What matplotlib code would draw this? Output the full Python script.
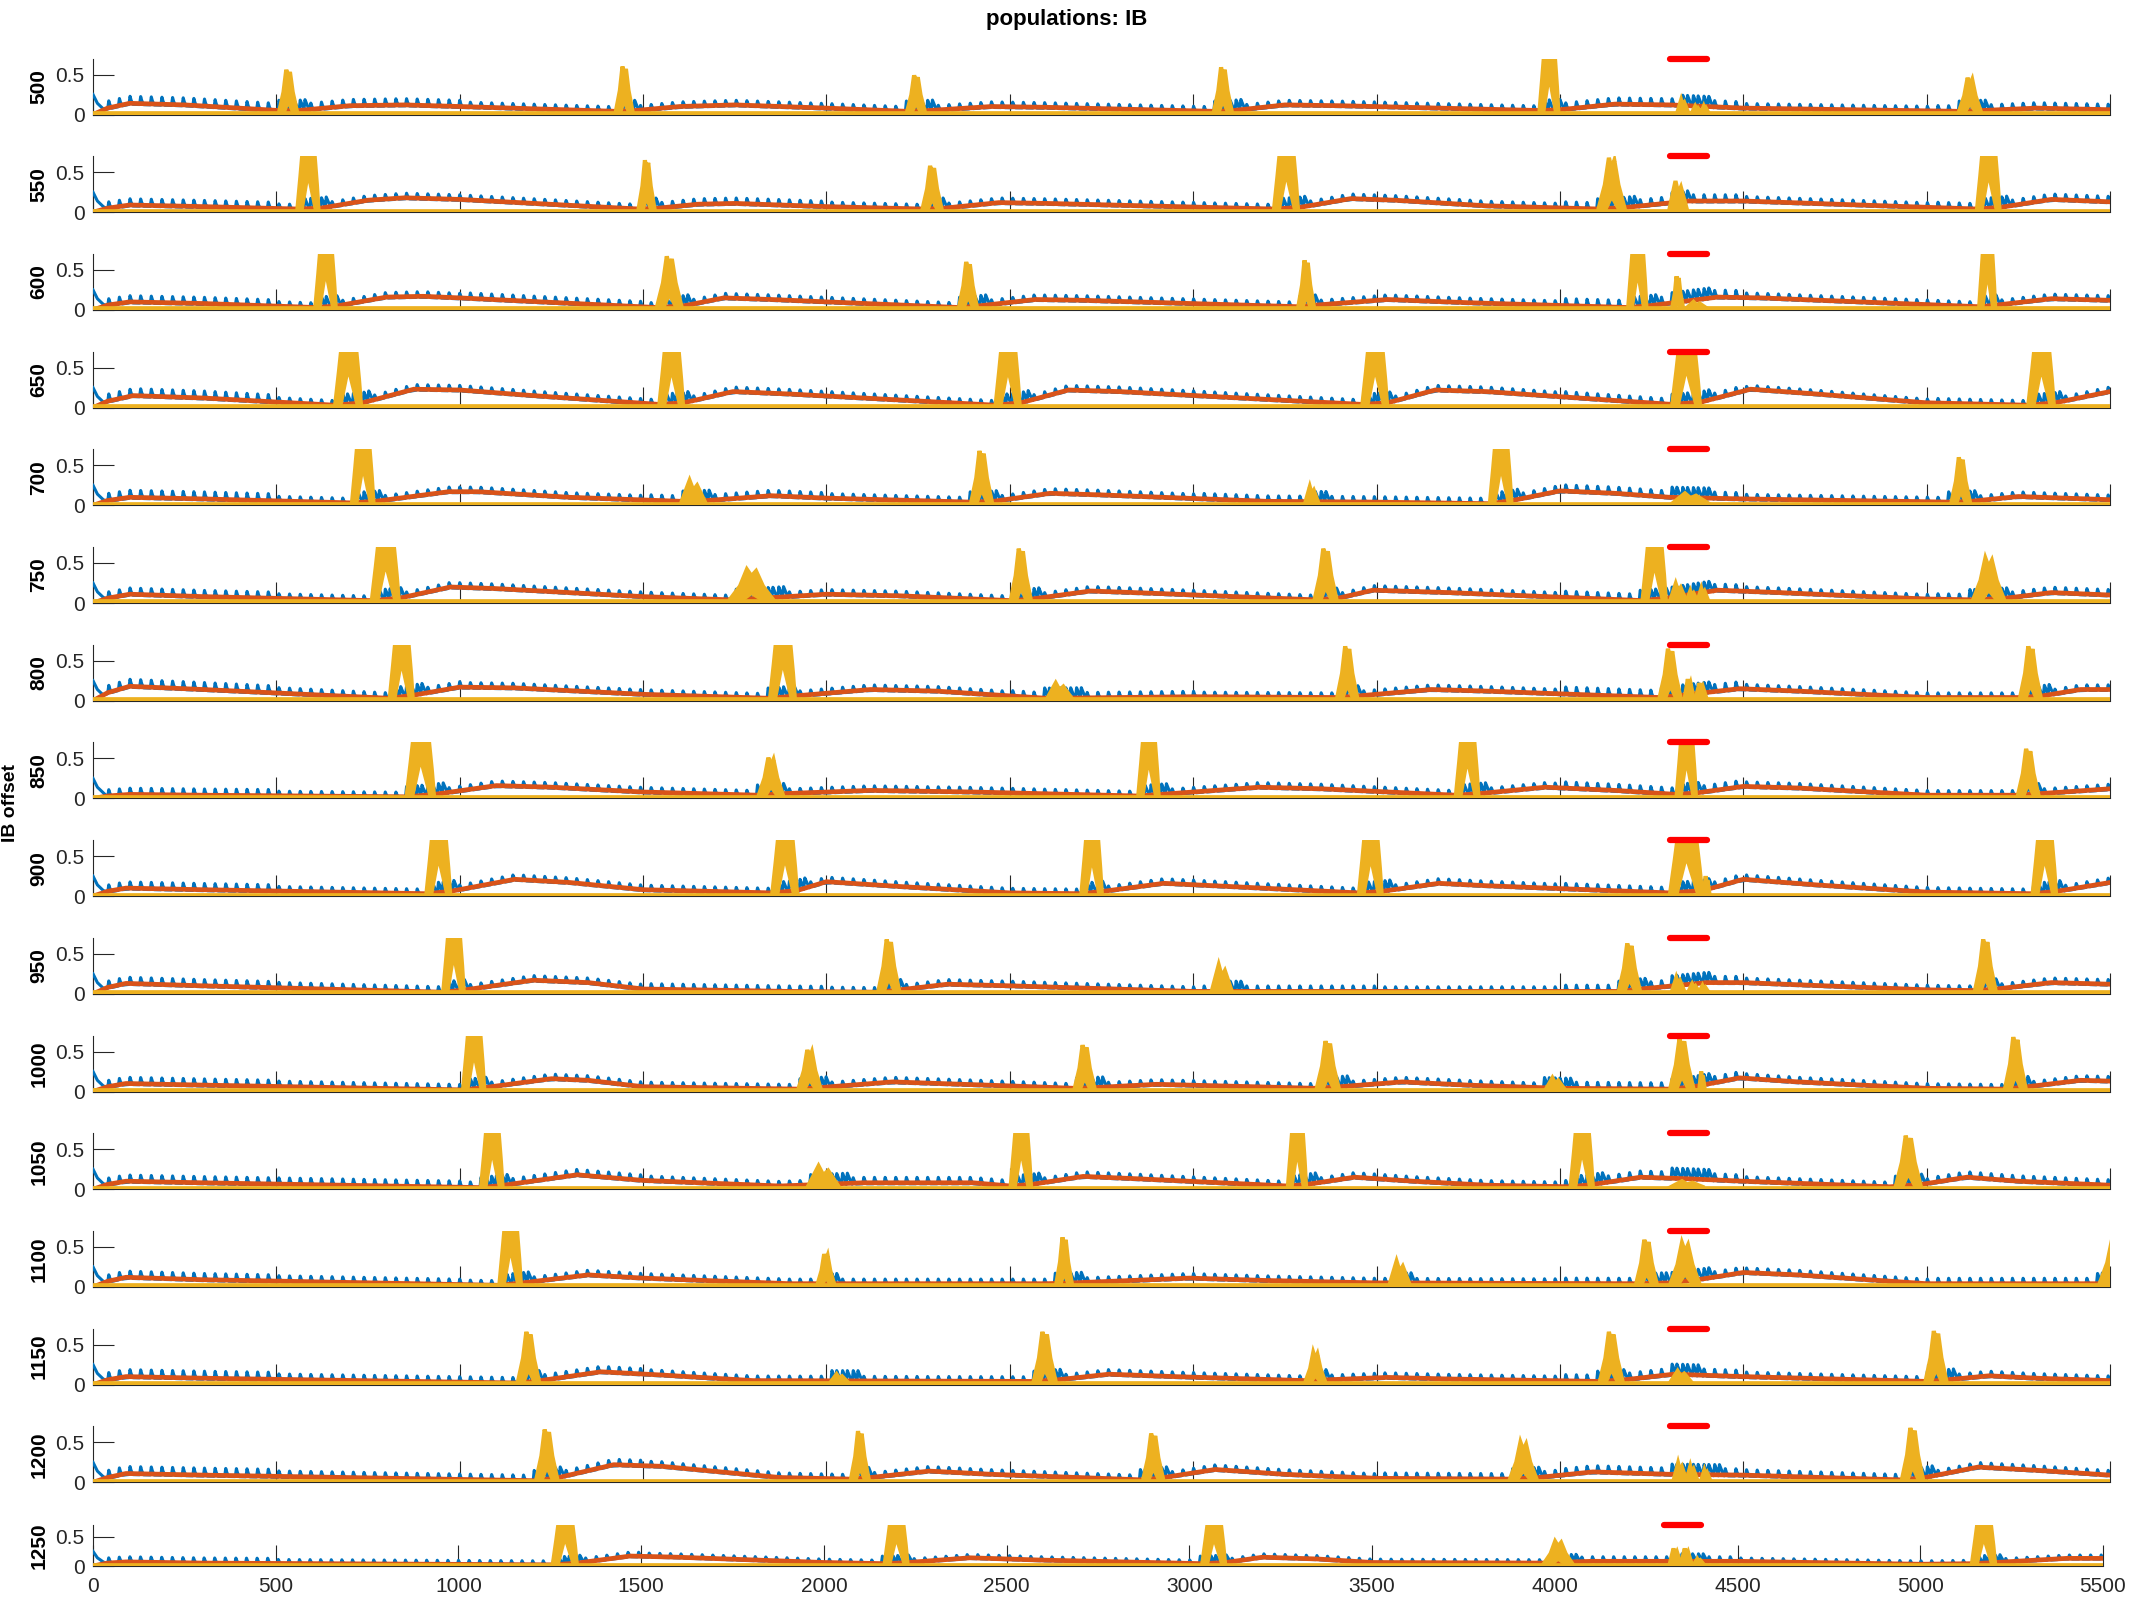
import numpy as np
import matplotlib
matplotlib.use('Agg')
import matplotlib.pyplot as plt

plt.rcParams['font.family'] = ['Liberation Sans', 'DejaVu Sans']

# ---- data ------------------------------------------------------------------
offsets = [500, 550, 600, 650, 700, 750, 800, 850, 900, 950, 1000, 1050, 1100, 1150, 1200, 1250]
xticks = list(range(0, 5501, 500))
yticks = [0, 0.5]
stim_window = (4300, 4400)   # red bar
stim_level = 0.7
yellow_base = 0.02
blue_start = [0.25, 0.14, 0.07]   # first samples of the blue trace (t = 0, 12, 28)
bump_period = 29                   # spacing of the small blue events
burst_blue = 0.14                  # blue level inside yellow bursts

# red trace: (t, value) key points
red_500 = [(0,0),(40,0.08),(100,0.14),(250,0.12),(507,0.05),(560,0.05),(700,0.11),(850,0.12),(1000,0.1),(1425,0.04),(1480,0.05),(1600,0.1),(1750,0.12),(2000,0.08),(2219,0.04),(2280,0.05),(2450,0.1),(2600,0.09),(3056,0.04),(3110,0.05),(3250,0.12),(3400,0.11),(3944,0.05),(4000,0.06),(4150,0.13),(4300,0.12),(4500,0.08),(5087,0.04),(5150,0.05),(5300,0.08),(5500,0.06)]
red_550 = [(0,0),(40,0.05),(100,0.09),(300,0.07),(557,0.04),(620,0.05),(750,0.15),(850,0.18),(1000,0.16),(1487,0.04),(1540,0.05),(1650,0.1),(1750,0.11),(2000,0.07),(2261,0.04),(2320,0.05),(2470,0.12),(2600,0.11),(3220,0.04),(3290,0.06),(3430,0.17),(3550,0.15),(3800,0.08),(4104,0.04),(4180,0.06),(4350,0.14),(4500,0.14),(5137,0.04),(5200,0.06),(5340,0.16),(5500,0.13)]
red_600 = [(0,0),(40,0.06),(100,0.1),(300,0.08),(606,0.03),(665,0.05),(800,0.16),(900,0.17),(1000,0.15),(1537,0.03),(1610,0.05),(1720,0.15),(1850,0.13),(2361,0.03),(2415,0.05),(2570,0.13),(2700,0.12),(3286,0.04),(3335,0.06),(3530,0.13),(3750,0.09),(4186,0.03),(4240,0.05),(4430,0.16),(4550,0.15),(5143,0.04),(5190,0.06),(5340,0.14),(5500,0.12)]
red_650 = [(0,0),(40,0.08),(110,0.15),(300,0.12),(660,0.03),(735,0.06),(875,0.23),(1000,0.22),(1200,0.15),(1544,0.04),(1610,0.06),(1745,0.2),(1900,0.17),(2461,0.03),(2530,0.06),(2660,0.22),(2800,0.2),(3461,0.04),(3530,0.06),(3660,0.22),(3800,0.2),(4306,0.04),(4385,0.07),(4520,0.23),(4700,0.17),(5000,0.06),(5277,0.03),(5350,0.06),(5500,0.2)]
red_700 = [(0,0),(40,0.06),(100,0.1),(300,0.08),(706,0.03),(770,0.05),(970,0.17),(1050,0.17),(1300,0.1),(1603,0.05),(1675,0.06),(1850,0.12),(2000,0.09),(2394,0.04),(2455,0.05),(2610,0.15),(2750,0.13),(3200,0.05),(3500,0.04),(3809,0.02),(3870,0.06),(4000,0.18),(4150,0.15),(4300,0.1),(4500,0.08),(5067,0.04),(5120,0.05),(5250,0.11),(5500,0.07)]
red_750 = [(0,0),(40,0.06),(100,0.11),(300,0.08),(760,0.03),(835,0.06),(975,0.2),(1100,0.18),(1500,0.08),(1733,0.04),(1860,0.07),(2000,0.11),(2200,0.09),(2502,0.03),(2560,0.05),(2720,0.15),(2900,0.12),(3330,0.04),(3395,0.06),(3490,0.16),(3700,0.13),(4225,0.03),(4290,0.06),(4430,0.16),(4600,0.13),(5000,0.05),(5125,0.04),(5215,0.06),(5340,0.13),(5500,0.1)]
red_800 = [(0,0),(40,0.1),(100,0.18),(300,0.14),(809,0.03),(875,0.07),(1000,0.17),(1150,0.16),(1500,0.08),(1846,0.03),(1915,0.06),(2120,0.14),(2300,0.12),(2601,0.03),(3000,0.05),(3392,0.04),(3450,0.06),(3650,0.14),(3800,0.12),(4271,0.04),(4335,0.07),(4490,0.15),(4650,0.12),(5000,0.04),(5254,0.04),(5315,0.06),(5420,0.14),(5500,0.14)]
red_850 = [(0,0),(40,0.03),(100,0.05),(300,0.04),(855,0.02),(930,0.05),(1100,0.16),(1250,0.14),(1500,0.08),(1814,0.04),(1885,0.06),(2120,0.1),(2400,0.08),(2850,0.03),(2910,0.05),(3180,0.14),(3350,0.12),(3716,0.04),(3780,0.06),(3960,0.14),(4150,0.1),(4318,0.05),(4375,0.07),(4500,0.15),(4650,0.13),(5000,0.04),(5248,0.04),(5310,0.06),(5500,0.12)]
red_900 = [(0,0),(40,0.06),(90,0.1),(300,0.08),(909,0.03),(975,0.06),(1150,0.21),(1300,0.17),(1500,0.08),(1852,0.04),(1920,0.07),(2000,0.18),(2200,0.12),(2500,0.04),(2695,0.03),(2755,0.06),(2920,0.16),(3100,0.12),(3452,0.04),(3515,0.06),(3670,0.16),(3800,0.13),(4300,0.04),(4390,0.07),(4500,0.21),(4700,0.14),(5000,0.05),(5289,0.03),(5355,0.06),(5500,0.17)]
red_950 = [(0,0),(40,0.08),(90,0.13),(300,0.1),(955,0.02),(1015,0.05),(1200,0.17),(1350,0.14),(1500,0.06),(1900,0.03),(2141,0.02),(2200,0.05),(2330,0.12),(2500,0.1),(3000,0.03),(3500,0.03),(4160,0.03),(4220,0.06),(4400,0.14),(4500,0.14),(5000,0.05),(5131,0.04),(5190,0.06),(5340,0.14),(5500,0.12)]
red_1000 = [(0,0),(40,0.06),(90,0.1),(300,0.08),(1009,0.02),(1070,0.05),(1250,0.16),(1350,0.14),(1500,0.06),(1923,0.03),(1985,0.05),(2180,0.12),(2500,0.07),(2676,0.04),(2735,0.05),(2900,0.09),(3336,0.04),(3400,0.06),(3570,0.12),(3750,0.08),(4000,0.04),(4300,0.03),(4365,0.06),(4490,0.17),(4650,0.12),(5000,0.04),(5213,0.03),(5275,0.06),(5420,0.14),(5500,0.13)]
red_1050 = [(0,0),(40,0.06),(90,0.1),(300,0.08),(1058,0.02),(1120,0.05),(1320,0.18),(1500,0.11),(1873,0.04),(2100,0.08),(2400,0.08),(2502,0.04),(2560,0.06),(2700,0.16),(2850,0.13),(3258,0.04),(3310,0.06),(3440,0.15),(3600,0.1),(3800,0.05),(4029,0.03),(4090,0.06),(4220,0.15),(4350,0.13),(4500,0.1),(4900,0.03),(4985,0.06),(5110,0.15),(5250,0.1),(5500,0.05)]
red_1100 = [(0,0),(40,0.07),(90,0.12),(300,0.09),(1108,0.02),(1170,0.05),(1350,0.15),(1500,0.11),(1900,0.04),(2600,0.04),(2670,0.05),(2990,0.11),(3200,0.08),(3500,0.05),(4200,0.04),(4300,0.05),(4390,0.1),(4500,0.18),(4650,0.15),(5000,0.04),(5470,0.04),(5500,0.06)]
red_1150 = [(0,0),(40,0.06),(90,0.1),(300,0.08),(1158,0.02),(1220,0.05),(1385,0.16),(1550,0.12),(1800,0.05),(2564,0.04),(2630,0.06),(2770,0.13),(2950,0.1),(3305,0.05),(3365,0.06),(3530,0.09),(3700,0.07),(4108,0.04),(4175,0.06),(4310,0.13),(4500,0.1),(5000,0.04),(5055,0.06),(5170,0.11),(5300,0.08),(5500,0.05)]
red_1200 = [(0,0),(40,0.06),(90,0.11),(300,0.09),(1208,0.02),(1270,0.06),(1420,0.22),(1550,0.2),(1873,0.06),(2066,0.04),(2120,0.06),(2280,0.14),(2450,0.1),(2863,0.03),(2920,0.06),(3060,0.16),(3250,0.1),(3500,0.05),(3862,0.04),(3940,0.06),(4090,0.13),(4300,0.1),(4500,0.09),(4932,0.03),(4995,0.06),(5140,0.19),(5300,0.15),(5500,0.09)]
red_1250 = [(0,0),(40,0.05),(90,0.07),(300,0.05),(1258,0.02),(1325,0.05),(1470,0.17),(1600,0.15),(2000,0.06),(2166,0.04),(2230,0.06),(2400,0.14),(2600,0.1),(3035,0.04),(3100,0.06),(3200,0.15),(3350,0.12),(3500,0.06),(3968,0.05),(4050,0.07),(4100,0.08),(4500,0.08),(5000,0.03),(5141,0.04),(5205,0.06),(5400,0.13),(5500,0.13)]

# yellow bursts: (start, end, peak)
yel_500 = [(507,557,0.56),(1425,1472,0.6),(2219,2269,0.49),(3056,3106,0.59),(3944,3996,0.7),(4320,4350,0.18),(4360,4385,0.1),(4385,4405,0.1),(5087,5149,0.46)]
yel_550 = [(557,615,0.7),(1487,1532,0.65),(2261,2315,0.58),(3220,3286,0.7),(4104,4178,0.68),(4298,4347,0.39),(5137,5199,0.7)]
yel_600 = [(606,662,0.7),(1537,1606,0.67),(2361,2411,0.6),(3286,3330,0.62),(4186,4236,0.7),(4306,4336,0.42),(4345,4400,0.1),(5143,5187,0.69)]
yel_650 = [(660,731,0.7),(1544,1609,0.7),(2461,2527,0.7),(3461,3529,0.7),(4306,4382,0.7),(5277,5347,0.7)]
yel_700 = [(706,765,0.7),(1603,1671,0.31),(2394,2452,0.68),(3305,3342,0.23),(3809,3868,0.7),(4306,4406,0.15),(5067,5119,0.6)]
yel_750 = [(760,834,0.7),(1733,1858,0.42),(2502,2558,0.68),(3330,3392,0.68),(4225,4289,0.7),(4300,4345,0.24),(4345,4375,0.15),(4375,4405,0.18),(5125,5213,0.56)]
yel_800 = [(809,872,0.7),(1846,1914,0.69),(2601,2670,0.22),(3392,3448,0.68),(4271,4330,0.65),(4340,4365,0.27),(4370,4400,0.22),(5254,5312,0.68)]
yel_850 = [(855,930,0.7),(1814,1883,0.51),(2850,2906,0.7),(3716,3778,0.7),(4318,4371,0.7),(5248,5306,0.62)]
yel_900 = [(909,974,0.7),(1852,1920,0.7),(2695,2751,0.7),(3452,3514,0.69),(4300,4388,0.7),(4392,4408,0.25),(5289,5353,0.7)]
yel_950 = [(955,1011,0.7),(2141,2199,0.68),(3050,3106,0.36),(4160,4219,0.63),(4305,4340,0.2),(4350,4380,0.12),(4380,4405,0.1),(5131,5189,0.68)]
yel_1000 = [(1009,1067,0.7),(1923,1985,0.52),(2676,2732,0.58),(3336,3398,0.63),(3961,4014,0.17),(4300,4365,0.66),(4380,4395,0.25),(5213,5271,0.68)]
yel_1050 = [(1058,1117,0.7),(1948,2035,0.29),(2502,2558,0.69),(3258,3308,0.7),(4029,4090,0.7),(4300,4394,0.1),(4915,4985,0.67)]
yel_1100 = [(1108,1167,0.7),(1975,2022,0.41),(2626,2670,0.62),(3535,3591,0.32),(4207,4265,0.59),(4300,4382,0.55),(5470,5560,0.6)]
yel_1150 = [(1158,1217,0.66),(2010,2060,0.13),(2564,2626,0.66),(3305,3361,0.4),(4108,4172,0.66),(4300,4360,0.17),(4996,5055,0.67)]
yel_1200 = [(1208,1267,0.66),(2066,2116,0.64),(2863,2919,0.61),(3862,3938,0.5),(4310,4345,0.24),(4345,4375,0.2),(4385,4410,0.15),(4932,4991,0.68)]
yel_1250 = [(1258,1324,0.7),(2166,2229,0.7),(3035,3098,0.7),(3968,4050,0.42),(4314,4345,0.3),(4345,4375,0.3),(4380,4408,0.12),(5141,5205,0.7)]

# height of the small blue events above the red trace, one value per 500 ms block
blue_500 = [0.10, 0.09, 0.07, 0.07, 0.07, 0.07, 0.07, 0.07, 0.09, 0.07, 0.08]
blue_550 = [0.09, 0.07, 0.07, 0.08, 0.07, 0.07, 0.07, 0.07, 0.09, 0.07, 0.08]
blue_600 = [0.09, 0.07, 0.08, 0.07, 0.07, 0.07, 0.07, 0.07, 0.10, 0.07, 0.07]
blue_650 = [0.10, 0.07, 0.07, 0.07, 0.07, 0.07, 0.07, 0.07, 0.08, 0.06, 0.07]
blue_700 = [0.10, 0.07, 0.07, 0.08, 0.07, 0.07, 0.08, 0.08, 0.09, 0.07, 0.07]
blue_750 = [0.09, 0.07, 0.07, 0.07, 0.07, 0.07, 0.07, 0.07, 0.09, 0.07, 0.08]
blue_800 = [0.10, 0.08, 0.07, 0.07, 0.07, 0.08, 0.07, 0.07, 0.10, 0.07, 0.07]
blue_850 = [0.09, 0.07, 0.07, 0.07, 0.07, 0.07, 0.07, 0.07, 0.09, 0.07, 0.07]
blue_900 = [0.09, 0.07, 0.07, 0.07, 0.07, 0.07, 0.07, 0.07, 0.08, 0.07, 0.07]
blue_950 = [0.09, 0.08, 0.07, 0.08, 0.07, 0.07, 0.08, 0.07, 0.09, 0.07, 0.07]
blue_1000 = [0.09, 0.08, 0.07, 0.07, 0.07, 0.07, 0.07, 0.07, 0.09, 0.07, 0.07]
blue_1050 = [0.09, 0.09, 0.08, 0.07, 0.08, 0.07, 0.07, 0.07, 0.09, 0.07, 0.08]
blue_1100 = [0.09, 0.08, 0.07, 0.07, 0.07, 0.07, 0.07, 0.07, 0.08, 0.07, 0.08]
blue_1150 = [0.10, 0.08, 0.08, 0.07, 0.07, 0.07, 0.07, 0.07, 0.09, 0.07, 0.07]
blue_1200 = [0.10, 0.08, 0.08, 0.07, 0.07, 0.07, 0.07, 0.08, 0.09, 0.08, 0.07]
blue_1250 = [0.10, 0.08, 0.08, 0.07, 0.07, 0.07, 0.07, 0.07, 0.09, 0.07, 0.07]

red_all = [red_500, red_550, red_600, red_650, red_700, red_750, red_800, red_850,
           red_900, red_950, red_1000, red_1050, red_1100, red_1150, red_1200, red_1250]
yel_all = [yel_500, yel_550, yel_600, yel_650, yel_700, yel_750, yel_800, yel_850,
           yel_900, yel_950, yel_1000, yel_1050, yel_1100, yel_1150, yel_1200, yel_1250]
blue_all = [blue_500, blue_550, blue_600, blue_650, blue_700, blue_750, blue_800, blue_850,
            blue_900, blue_950, blue_1000, blue_1050, blue_1100, blue_1150, blue_1200, blue_1250]

C_BLUE = '#0072BD'
C_RED = '#D95319'
C_YEL = '#EDB120'
C_AX = '#262626'


def burst_poly(s, e, p, b):
    # outline of one yellow burst (fast oscillation drawn as a filled shape)
    w = e - s
    if p >= 0.69:
        top = 0.76
        xs = [s, s+0.15*w, s+0.25*w, e-0.2*w, e-0.08*w, e, e-0.12*w, s+0.55*w, s+0.45*w, s+0.2*w]
        ys = [b, 0.45, top, top, 0.35, b, b, 0.45, 0.42, b]
    elif p >= 0.4:
        xs = [s, s+0.25*w, s+0.4*w, s+0.5*w, s+0.6*w, s+0.75*w, e, e-0.2*w, s+0.5*w, s+0.25*w]
        ys = [b, 0.5*p, p, 0.8*p, 0.95*p, 0.5*p, b, b, 0.3*p, b]
    else:
        xs = [s, s+0.35*w, s+0.5*w, s+0.65*w, e]
        ys = [b, p, 0.6*p, 0.8*p, b]
    return xs, ys


def blue_trace(rx, ry, amps, bursts):
    xs = [0, 12, 28]
    ys = list(blue_start)
    for t in np.arange(40, 5500, bump_period):
        in_burst = any(s - 10 <= t <= e + 10 for s, e, p in bursts)
        if in_burst:
            pts = [(t, 0.0), (t + 3, burst_blue), (t + 8, 0.6 * burst_blue),
                   (t + 13, 0.0), (t + 16, burst_blue), (t + 22, 0.5 * burst_blue)]
        else:
            a = amps[min(int(t // 500), len(amps) - 1)]
            pts = [(t, 0.0), (t + 3, a), (t + 6, 0.5 * a), (t + 11, 0.0)]
        for x, d in pts:
            xs.append(x)
            ys.append(np.interp(x, rx, ry) - 0.012 + d)
    return xs, ys


W, H = 2133, 1600
fig = plt.figure(figsize=(W / 100, H / 100), dpi=100)

n = len(offsets)
for k, off in enumerate(offsets):
    if k < n - 1:
        zero = 114.5 + 97.7 * k
        hgt = 56
        right = 2110
    else:
        zero = 1566
        hgt = 41
        right = 2103
    ax = fig.add_axes([93 / W, 1 - zero / H, (right - 93) / W, hgt / H])

    rx = [p[0] for p in red_all[k]]
    ry = [p[1] for p in red_all[k]]
    bx, by = blue_trace(rx, ry, blue_all[k], yel_all[k])
    ax.plot(bx, by, color=C_BLUE, lw=2.2, zorder=3)
    ax.plot(rx, ry, color=C_RED, lw=3.4, zorder=4, solid_capstyle='round')
    ax.plot([0, 5500], [yellow_base, yellow_base], color=C_YEL, lw=3.4, zorder=5)
    for s, e, p in yel_all[k]:
        px, py = burst_poly(s, e, p, yellow_base)
        ax.fill(px, py, facecolor=C_YEL, edgecolor=C_YEL, lw=3.0, zorder=5)
    ax.plot(stim_window, [stim_level, stim_level], color='#FF0000', lw=4.5,
            solid_capstyle='round', clip_on=False, zorder=6)

    ax.set_xlim(0, 5500)
    ax.set_ylim(0, 0.7)
    ax.set_xticks(xticks)
    ax.set_yticks(yticks)
    ax.set_yticklabels(['0', '0.5'])
    ax.spines['top'].set_visible(False)
    ax.spines['right'].set_visible(False)
    for sp in ('left', 'bottom'):
        ax.spines[sp].set_color(C_AX)
        ax.spines[sp].set_linewidth(0.8)
    ax.tick_params(direction='in', length=15, width=0.8, colors=C_AX,
                   labelsize=15, pad=6)
    if k < n - 1:
        ax.tick_params(axis='x', labelbottom=False)
    else:
        ax.tick_params(axis='x', pad=8)
    fig.text(39 / W, 1 - (zero - hgt / 2) / H, str(off), rotation=90,
             ha='center', va='center', fontsize=15, fontweight='bold', color='black')

fig.text(0.5, 1 - 20 / H, 'populations: IB', ha='center', va='center',
         fontsize=16, fontweight='bold')
fig.text(11 / W, 1 - 803 / H, 'IB offset', rotation=90, ha='center', va='center',
         fontsize=14, fontweight='bold')

fig.savefig('out.png', dpi=100)
